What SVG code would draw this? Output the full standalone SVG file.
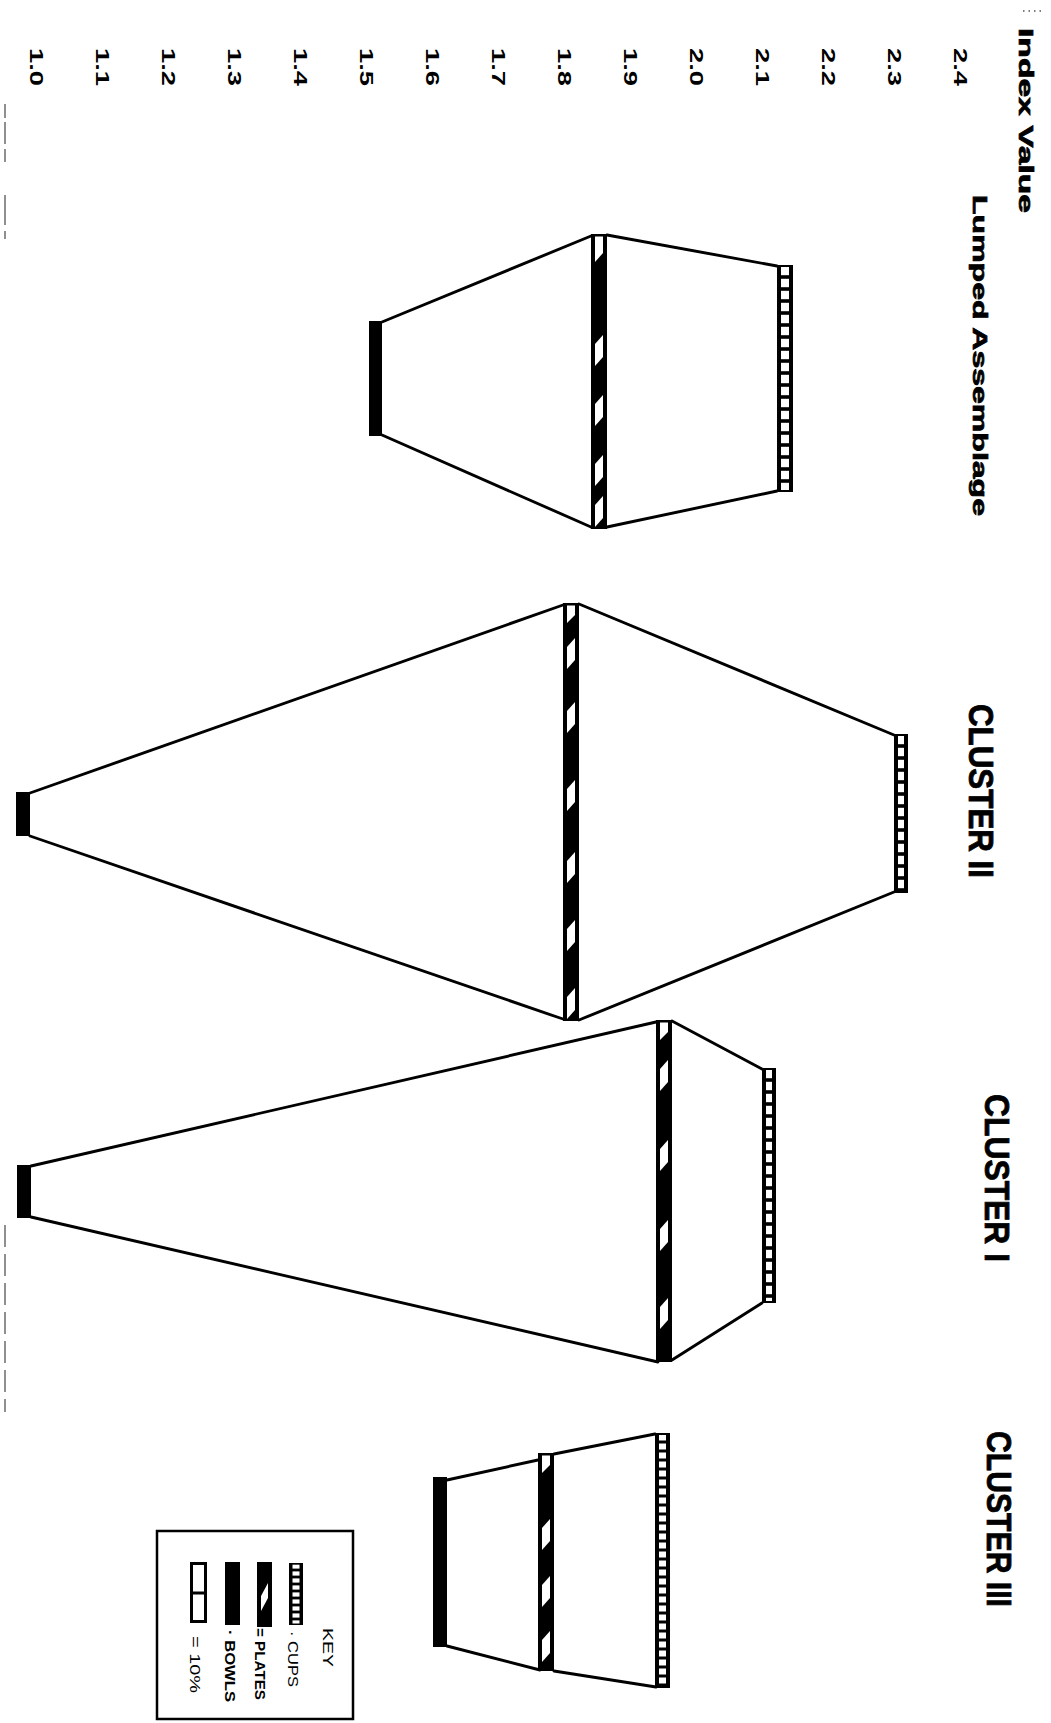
<svg xmlns="http://www.w3.org/2000/svg" xmlns:xlink="http://www.w3.org/1999/xlink" width="1051" height="1723" viewBox="0 0 1051 1723">
  <style>
    .t { font-family: 'Liberation Sans', Arial, sans-serif; fill: #000; }
    .hd { font-size: 21px; font-weight: bold; stroke: #000; stroke-width: 0.7; }
    .cl { font-size: 35px; font-weight: bold; stroke: #000; stroke-width: 0.8; }
    .ax { font-size: 19px; font-weight: bold; }
    .ky { font-size: 15px; }
    .kb { font-size: 15px; font-weight: bold; }
    .edge { fill: none; stroke: #000; stroke-width: 2.9; stroke-linecap: round; stroke-linejoin: round; }
    .blk { fill: #000; }
    .art { fill: none; stroke: #555; stroke-width: 1.3; }
  </style>
  <defs>
    <pattern id="ladder12" width="1000" height="12" patternUnits="userSpaceOnUse">
      <rect width="1000" height="12" fill="#000"/>
      <rect y="1.8" width="1000" height="8.4" fill="#fff"/>
    </pattern>
    <pattern id="ladder9" width="1000" height="9" patternUnits="userSpaceOnUse">
      <rect width="1000" height="9" fill="#000"/>
      <rect y="1.5" width="1000" height="6" fill="#fff"/>
    </pattern>
    <pattern id="ladder7" width="1000" height="7" patternUnits="userSpaceOnUse">
      <rect width="1000" height="7" fill="#000"/>
      <rect y="1.4" width="1000" height="4.2" fill="#fff"/>
    </pattern>
    <path id="wp" d="M4,9 L12,0 L12,22 L4,31 Z" fill="#fff"/>
    <path id="wpTop" d="M4,2.5 L12,2.5 L12,12 L4,20 Z" fill="#fff"/>
    <path id="wpTopL" d="M4,2.5 L12,2.5 L12,19 L4,28 Z" fill="#fff"/>
  </defs>

  <rect width="1051" height="1723" fill="#fff"/>

  <!-- scan artefacts -->
  <g id="artefacts">
    <line class="art" x1="5" y1="104" x2="5" y2="162" stroke-dasharray="14 4 22 5"/>
    <line class="art" x1="5" y1="195" x2="5" y2="242" stroke-width="2.2" stroke-dasharray="30 6 8 3"/>
    <line class="art" x1="5" y1="1225" x2="5" y2="1412" stroke-dasharray="22 7"/>
    <line class="art" x1="1023" y1="11" x2="1041" y2="11" stroke-dasharray="1.5 4"/>
  </g>

  <!-- axis -->
  <g id="axis">
    <text class="t hd" transform="translate(1019,28) rotate(90)" textLength="185" lengthAdjust="spacingAndGlyphs">Index Value</text>
    <text class="t ax" transform="translate(954,48) rotate(90)" textLength="38" lengthAdjust="spacingAndGlyphs">2.4</text>
    <text class="t ax" transform="translate(888,48) rotate(90)" textLength="38" lengthAdjust="spacingAndGlyphs">2.3</text>
    <text class="t ax" transform="translate(822,48) rotate(90)" textLength="38" lengthAdjust="spacingAndGlyphs">2.2</text>
    <text class="t ax" transform="translate(756,48) rotate(90)" textLength="38" lengthAdjust="spacingAndGlyphs">2.1</text>
    <text class="t ax" transform="translate(690,48) rotate(90)" textLength="38" lengthAdjust="spacingAndGlyphs">2.0</text>
    <text class="t ax" transform="translate(624,48) rotate(90)" textLength="38" lengthAdjust="spacingAndGlyphs">1.9</text>
    <text class="t ax" transform="translate(558,48) rotate(90)" textLength="38" lengthAdjust="spacingAndGlyphs">1.8</text>
    <text class="t ax" transform="translate(492,48) rotate(90)" textLength="38" lengthAdjust="spacingAndGlyphs">1.7</text>
    <text class="t ax" transform="translate(426,48) rotate(90)" textLength="38" lengthAdjust="spacingAndGlyphs">1.6</text>
    <text class="t ax" transform="translate(360,48) rotate(90)" textLength="38" lengthAdjust="spacingAndGlyphs">1.5</text>
    <text class="t ax" transform="translate(294,48) rotate(90)" textLength="38" lengthAdjust="spacingAndGlyphs">1.4</text>
    <text class="t ax" transform="translate(228,48) rotate(90)" textLength="38" lengthAdjust="spacingAndGlyphs">1.3</text>
    <text class="t ax" transform="translate(162,48) rotate(90)" textLength="38" lengthAdjust="spacingAndGlyphs">1.2</text>
    <text class="t ax" transform="translate(96,48) rotate(90)" textLength="38" lengthAdjust="spacingAndGlyphs">1.1</text>
    <text class="t ax" transform="translate(30,48) rotate(90)" textLength="38" lengthAdjust="spacingAndGlyphs">1.0</text>
  </g>

  <!-- Lumped Assemblage -->
  <g id="lumped">
    <text class="t hd" transform="translate(973,195) rotate(90)" textLength="321" lengthAdjust="spacingAndGlyphs">Lumped Assemblage</text>
    <path class="edge" d="M382,322 L591,236 M607,235 L777,266 M382,435 L591,527 M607,527 L777,491"/>
    <rect class="blk" x="369" y="321" width="13" height="115"/>
    <rect class="blk" x="591" y="234" width="16" height="295"/>
    <use xlink:href="#wpTopL" x="591" y="234"/>
    <use xlink:href="#wp" x="591" y="335"/>
    <use xlink:href="#wp" x="591" y="395"/>
    <use xlink:href="#wp" x="591" y="455"/>
    <use xlink:href="#wp" x="591" y="496"/>
    <g transform="translate(777,265)">
      <rect class="blk" width="16" height="227"/>
      <rect x="4" y="2" width="8" height="223" fill="url(#ladder12)"/>
    </g>
  </g>

  <!-- Cluster II -->
  <g id="cluster-ii">
    <text class="t cl" transform="translate(969,704) rotate(90)" textLength="174" lengthAdjust="spacingAndGlyphs">CLUSTER II</text>
    <path class="edge" d="M30,793 L563,605 M579,604 L894,735 M30,836 L563,1019 M579,1020 L894,892"/>
    <rect class="blk" x="16" y="792" width="14" height="44"/>
    <rect class="blk" x="563" y="603" width="16" height="418"/>
    <use xlink:href="#wpTop" x="563" y="603"/>
    <use xlink:href="#wp" x="563" y="638"/>
    <use xlink:href="#wp" x="563" y="702"/>
    <use xlink:href="#wp" x="563" y="780"/>
    <use xlink:href="#wp" x="563" y="852"/>
    <use xlink:href="#wp" x="563" y="920"/>
    <use xlink:href="#wp" x="563" y="988"/>
    <g transform="translate(894,734)">
      <rect class="blk" width="14" height="159"/>
      <rect x="4" y="2" width="6" height="155" fill="url(#ladder12)"/>
    </g>
  </g>

  <!-- Cluster I -->
  <g id="cluster-i">
    <text class="t cl" transform="translate(985,1094) rotate(90)" textLength="168" lengthAdjust="spacingAndGlyphs">CLUSTER I</text>
    <path class="edge" d="M31,1166 L656,1022 M672,1021 L762,1069 M31,1217 L658,1362 M672,1360 L762,1303"/>
    <rect class="blk" x="17" y="1165" width="14" height="53"/>
    <rect class="blk" x="656" y="1020" width="16" height="342"/>
    <use xlink:href="#wpTop" x="656" y="1020"/>
    <use xlink:href="#wp" x="656" y="1060"/>
    <use xlink:href="#wp" x="656" y="1140"/>
    <use xlink:href="#wp" x="656" y="1220"/>
    <use xlink:href="#wp" x="656" y="1298"/>
    <g transform="translate(762,1068)">
      <rect class="blk" width="14" height="235"/>
      <rect x="4" y="2" width="6" height="231" fill="url(#ladder12)"/>
    </g>
  </g>

  <!-- Cluster III -->
  <g id="cluster-iii">
    <text class="t cl" transform="translate(987,1431) rotate(90)" textLength="176" lengthAdjust="spacingAndGlyphs">CLUSTER III</text>
    <path class="edge" d="M447,1480 L538,1460 M554,1454 L655,1434 M447,1646 L540,1670 M554,1671 L656,1687"/>
    <rect class="blk" x="433" y="1477" width="14" height="170"/>
    <rect class="blk" x="538" y="1453" width="16" height="218"/>
    <use xlink:href="#wpTop" x="538" y="1453"/>
    <use xlink:href="#wp" x="538" y="1519"/>
    <use xlink:href="#wp" x="538" y="1576"/>
    <use xlink:href="#wp" x="538" y="1631"/>
    <g transform="translate(655,1433)">
      <rect class="blk" width="15" height="255"/>
      <rect x="4" y="2" width="7" height="251" fill="url(#ladder9)"/>
    </g>
  </g>

  <!-- Key -->
  <g id="key">
    <rect x="157" y="1531" width="196" height="188" fill="none" stroke="#000" stroke-width="2.5"/>
    <text class="t ky" transform="translate(323,1628) rotate(90)" textLength="39" lengthAdjust="spacingAndGlyphs">KEY</text>
    <g transform="translate(289,1563)">
      <rect class="blk" width="14" height="62"/>
      <rect x="3.5" y="1.5" width="7" height="59" fill="url(#ladder7)"/>
    </g>
    <text class="t ky" transform="translate(288,1631) rotate(90)" textLength="56" lengthAdjust="spacingAndGlyphs">· CUPS</text>
    <rect class="blk" x="257" y="1562" width="15" height="65"/>
    <path d="M261,1596 L268,1583 L268,1598 L261,1611 Z" fill="#fff"/>
    <text class="t kb" transform="translate(255,1628) rotate(90)" textLength="72" lengthAdjust="spacingAndGlyphs">= PLATES</text>
    <rect class="blk" x="225" y="1562" width="15" height="63"/>
    <text class="t kb" transform="translate(225,1630) rotate(90)" textLength="72" lengthAdjust="spacingAndGlyphs">· BOWLS</text>
    <rect x="191.5" y="1563.5" width="14" height="58" fill="#fff" stroke="#000" stroke-width="3"/>
    <line x1="191" y1="1593" x2="206" y2="1593" stroke="#000" stroke-width="3"/>
    <text class="t ky" transform="translate(190,1636) rotate(90)" textLength="57" lengthAdjust="spacingAndGlyphs">= 10%</text>
  </g>
</svg>
